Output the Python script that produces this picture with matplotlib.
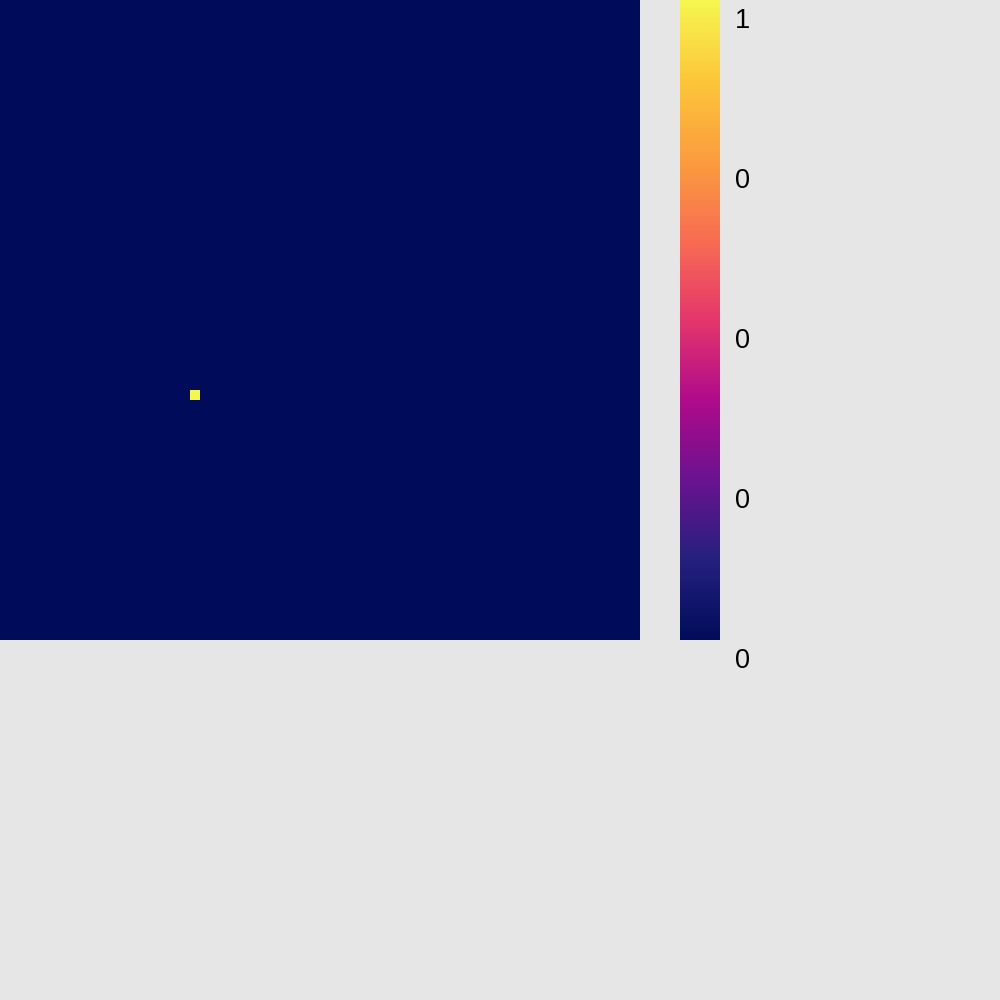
import numpy as np
import matplotlib
matplotlib.use("Agg")
import matplotlib.pyplot as plt
from matplotlib.colors import LinearSegmentedColormap
from matplotlib import transforms

# ---- data ----
n_rows = 64
n_cols = 64
hot_rows = [39]
hot_cols = [19]
hot_values = [1.0]
cbar_ticks = [0.0, 0.25, 0.5, 0.75, 1.0]
cbar_labels = ["0", "0", "0", "0", "1"]

grid = np.zeros((n_rows, n_cols))
for r, c, v in zip(hot_rows, hot_cols, hot_values):
    grid[r, c] = v

# ---- colormap ----
cmap_stops = [
    (0.0, "#000c5a"),
    (0.125, "#25207e"),
    (0.25, "#6a1290"),
    (0.375, "#b00a8a"),
    (0.5, "#e4366c"),
    (0.625, "#f86c52"),
    (0.75, "#fb9c3e"),
    (0.875, "#fcc63a"),
    (1.0, "#f5f64e"),
]
cmap = LinearSegmentedColormap.from_list("custom", cmap_stops)

bg = "#e6e6e6"
fig = plt.figure(figsize=(10, 10), dpi=100, facecolor=bg)

ax = fig.add_axes([0.0, 0.36, 0.64, 0.64])
im = ax.imshow(grid, cmap=cmap, vmin=0, vmax=1, interpolation="nearest",
               aspect="auto")
ax.set_axis_off()

cax = fig.add_axes([0.68, 0.36, 0.04, 0.64])
cb = fig.colorbar(im, cax=cax)
cb.outline.set_visible(False)
cax.set_yticks([])

for t, lab in zip(cbar_ticks, cbar_labels):
    tr = transforms.blended_transform_factory(cax.transAxes, cax.transData)
    tr = transforms.offset_copy(tr, fig=fig, x=15, y=-8, units="dots")
    cax.text(1.0, t, lab, transform=tr, ha="left", va="top",
             fontsize=19.5, family="Liberation Sans", color="black")

fig.savefig("out.png", dpi=100, facecolor=bg)
